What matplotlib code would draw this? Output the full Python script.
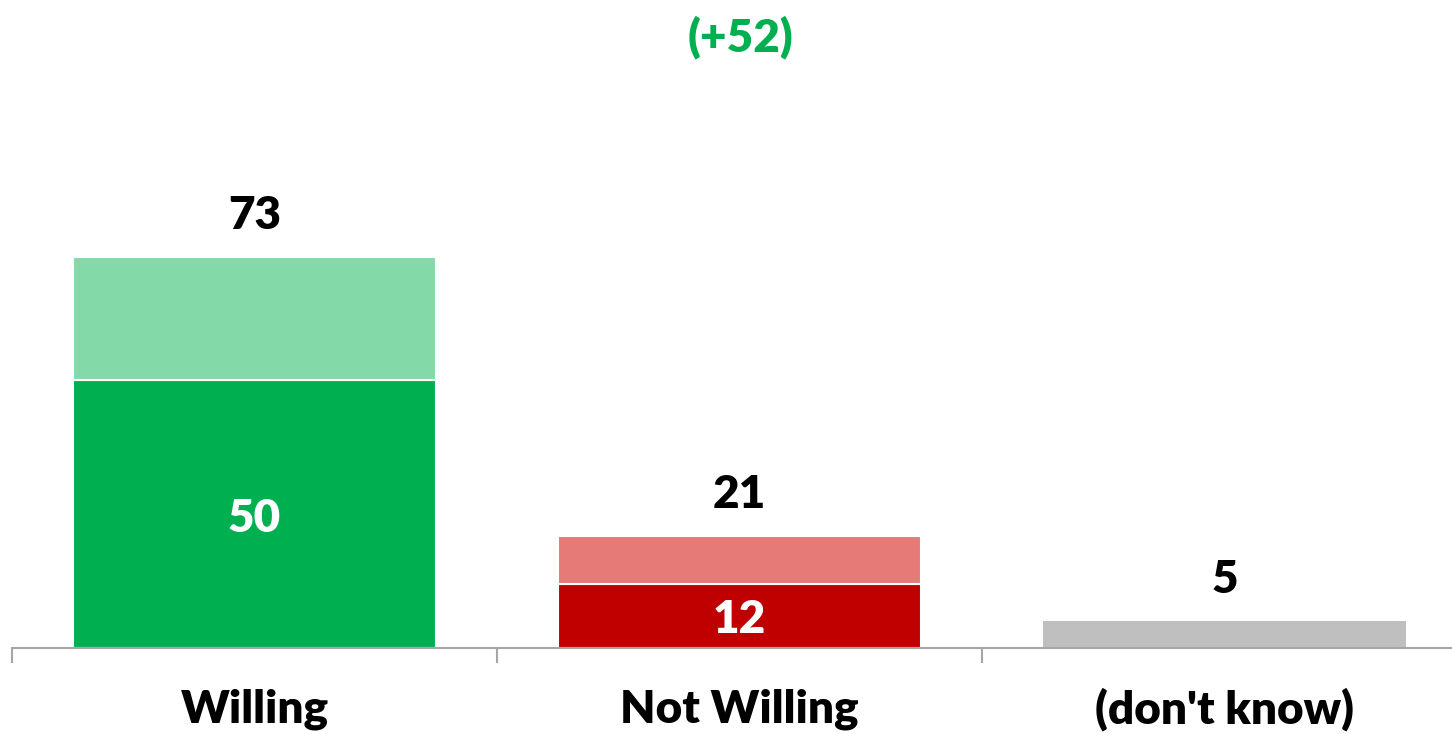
import matplotlib
matplotlib.use("Agg")
import matplotlib.pyplot as plt

# data
categories = ["Willing", "Not Willing", "(don't know)"]
strong = [50, 12, 5]
totals = [73, 21, 5]
net_label = "(+52)"

dark_colors = ["#00B050", "#C00000", "#BFBFBF"]
light_colors = ["#84D9A9", "#E57A77", "#BFBFBF"]

plt.rcParams["font.family"] = ["Lato", "DejaVu Sans"]
WT = "heavy"

fig = plt.figure(figsize=(14.52, 7.34), dpi=100)
ax = fig.add_axes([12 / 1452, 86 / 734, 1440 / 1452, 648 / 734])

x = list(range(len(categories)))
rest = [t - s for t, s in zip(totals, strong)]
w = 363 / 485

for i in x:
    if i < 2:
        ax.bar(i, strong[i], width=w, color=dark_colors[i], edgecolor="white", linewidth=1.5, zorder=2)
        ax.bar(i, rest[i], bottom=strong[i], width=w, color=light_colors[i], edgecolor="white", linewidth=1.5, zorder=2)
        ax.annotate(str(strong[i]), (i, strong[i] / 2), xytext=(0, -4), textcoords="offset pixels",
                    ha="center", va="center", color="white", fontsize=33, fontweight=WT)
    else:
        ax.bar(i, totals[i], width=w, color=dark_colors[i], zorder=2)
    ax.annotate(str(totals[i]), (i, totals[i]), xytext=(0, 21), textcoords="offset pixels",
                ha="center", va="bottom", fontsize=33, fontweight=WT, color="black")

ax.set_xlim(-0.5, -0.5 + 1440 / 485)
ax.set_ylim(0, 121)

for s in ["top", "right", "left"]:
    ax.spines[s].set_visible(False)
ax.spines["bottom"].set_color("#A6A6A6")
ax.spines["bottom"].set_linewidth(1.5)
ax.set_yticks([])
ax.set_xticks([-0.5, 0.5, 1.5])
ax.set_xticklabels([])
ax.tick_params(axis="x", length=11, width=1.5, color="#A6A6A6", direction="out")
for i, c in enumerate(categories):
    ax.text(i, -11.5, c, ha="center", va="center", fontsize=33, fontweight=WT, color="black")

fig.text(740 / 1452, 1 - 37 / 734, net_label, ha="center", va="center",
         fontsize=33, fontweight=WT, color="#00B050")

fig.savefig("out.png", dpi=100)
